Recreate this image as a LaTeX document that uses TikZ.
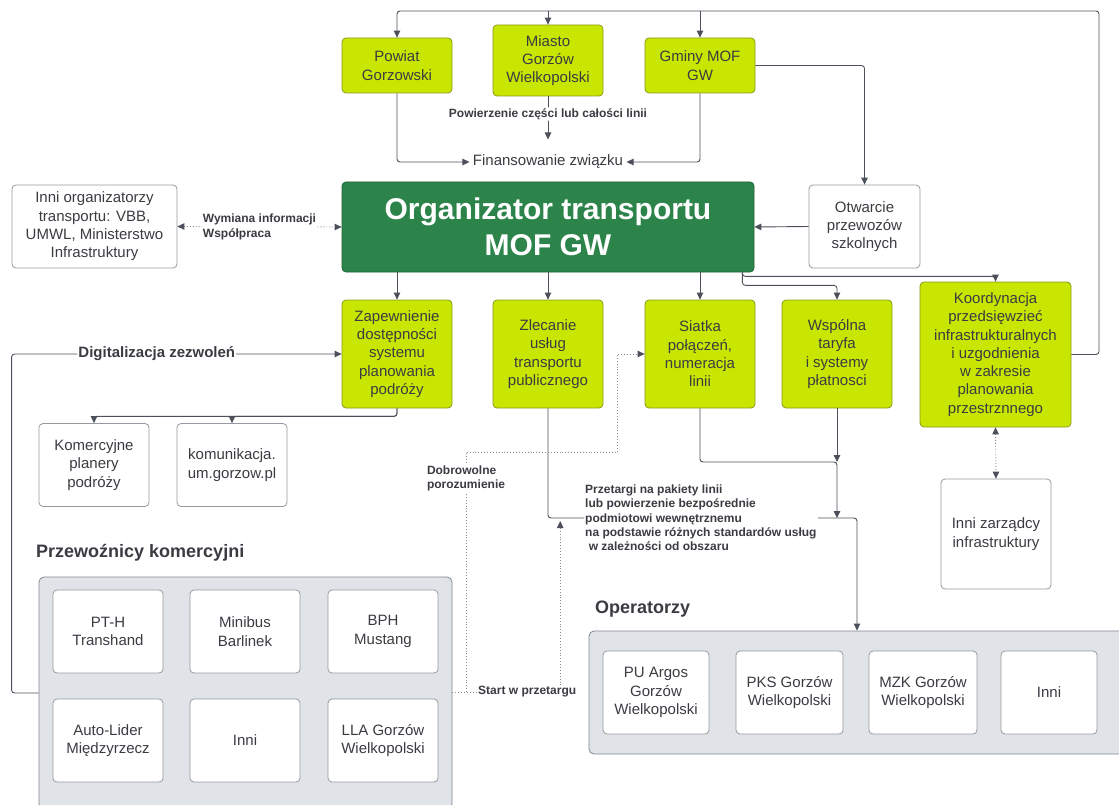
\documentclass[tikz,border=0pt]{standalone}
\usepackage{fontspec}
\setmainfont{Liberation Sans}
\usetikzlibrary{arrows.meta}

\definecolor{limefill}{RGB}{200,230,0}
\definecolor{limedraw}{RGB}{135,155,30}
\definecolor{orgfill}{RGB}{44,132,74}
\definecolor{orgdraw}{RGB}{30,100,55}
\definecolor{boxdraw}{RGB}{150,154,160}
\definecolor{groupfill}{RGB}{224,227,232}
\definecolor{groupdraw}{RGB}{130,135,145}
\definecolor{linecol}{RGB}{75,80,90}
\definecolor{dotcol}{RGB}{140,142,148}
\definecolor{textcol}{RGB}{58,60,66}

\begin{document}
\begin{tikzpicture}[
    x=1pt, y=-1pt,
    box/.style={rectangle, rounded corners=4pt, draw, align=center, inner sep=2pt, text=textcol,
        font=\fontsize{15}{18.3}\selectfont, line width=0.8pt},
    greenbox/.style={box, fill=limefill, draw=limedraw},
    whitebox/.style={box, fill=white, draw=boxdraw},
    orgbox/.style={box, fill=orgfill, draw=orgdraw, text=white, font=\fontsize{30}{36}\selectfont\bfseries},
    groupbox/.style={rectangle, rounded corners=5pt, draw=groupdraw, fill=groupfill, line width=0.8pt},
    member/.style={whitebox, minimum height=83pt},
    lbl/.style={font=\fontsize{12}{14.3}\selectfont\bfseries, text=textcol, align=left, inner sep=1pt},
    heading/.style={font=\fontsize{18}{21}\selectfont\bfseries, text=textcol, anchor=west, inner sep=0pt},
    conn/.style={draw=linecol, line width=0.9pt, rounded corners=3pt},
    arrow/.style={conn, -{Triangle[length=7pt,width=6.5pt]}},
    dotline/.style={draw=dotcol, dotted, line width=0.9pt},
    dotarrow/.style={dotline, -{Triangle[length=7pt,width=6.5pt,color=linecol]}},
    dotboth/.style={dotline, {Triangle[length=7pt,width=6.5pt,color=linecol]}-{Triangle[length=7pt,width=6.5pt,color=linecol]}}
]
\useasboundingbox (0,0) rectangle (1119,805);
\clip (0,0) rectangle (1119,805);
\fill[white] (0,0) rectangle (1119,805);

% Funding bodies
\node[greenbox, minimum width=110pt, minimum height=55pt] (powiat) at (397,65.5) {Powiat\\Gorzowski};
\node[greenbox, minimum width=110pt, minimum height=71pt] (miasto) at (548,60.5) {Miasto\\Gorzów\\Wielkopolski};
\node[greenbox, minimum width=110pt, minimum height=55pt] (gminy) at (700,65.5) {Gminy MOF\\GW};
\node[text=textcol, font=\fontsize{15}{18}\selectfont] (fin) at (548,162) {Finansowanie związku};

% Organizer
\node[orgbox, minimum width=412pt, minimum height=90pt] (org) at (548,227) {Organizator transportu\\MOF GW};
\node[whitebox, minimum width=165pt, minimum height=83pt] (inniorg) at (94.5,226.5) {Inni organizatorzy\\transportu: VBB,\\UMWL, Ministerstwo\\Infrastruktury};
\node[whitebox, minimum width=111pt, minimum height=83pt] (otw) at (864.5,226.5) {Otwarcie\\przewozów\\szkolnych};

% Tasks
\node[greenbox, minimum width=110pt, minimum height=108pt] (zap) at (397,354) {Zapewnienie\\dostępności\\systemu\\planowania\\podróży};
\node[greenbox, minimum width=110pt, minimum height=108pt] (zlec) at (548,354) {Zlecanie\\usług\\transportu\\publicznego};
\node[greenbox, minimum width=110pt, minimum height=108pt] (siat) at (700,354) {Siatka\\połączeń,\\numeracja\\linii};
\node[greenbox, minimum width=110pt, minimum height=108pt] (wsp) at (837,354) {Wspólna\\taryfa\\i systemy\\płatnosci};
\node[greenbox, minimum width=151pt, minimum height=145pt] (koord) at (995.5,354.5) {Koordynacja\\przedsięwzieć\\infrastrukturalnych\\i uzgodnienia\\w zakresie\\planowania\\przestrznnego};

\node[whitebox, minimum width=110pt, minimum height=83pt] (kom) at (94,465) {Komercyjne\\planery\\podróży};
\node[whitebox, minimum width=110pt, minimum height=83pt] (komu) at (232,465) {komunikacja.\\um.gorzow.pl};
\node[whitebox, minimum width=110pt, minimum height=110pt] (izarz) at (996,534) {Inni zarządcy\\infrastruktury};

% Commercial carriers
\node[heading] (przewh) at (36,553) {Przewoźnicy komercyjni};
\node[groupbox, minimum width=413pt, minimum height=232pt] (przew) at (245.5,693) {};
\node[member, minimum width=110pt] (pth) at (108,631.5) {PT-H\\Transhand};
\node[member, minimum width=110pt] (minibus) at (245,631.5) {Minibus\\Barlinek};
\node[member, minimum width=110pt] (bph) at (383,631.5) {BPH\\Mustang};
\node[member, minimum width=110pt] (autolider) at (108,740.5) {Auto-Lider\\Międzyrzecz};
\node[member, minimum width=110pt] (inniprz) at (245,740.5) {Inni};
\node[member, minimum width=110pt] (lla) at (383,740.5) {LLA Gorzów\\Wielkopolski};

% Operators
\node[heading] (operh) at (595,609) {Operatorzy};
\node[groupbox, minimum width=536pt, minimum height=123pt] (oper) at (857,692.5) {};
\node[member, minimum width=106pt] (argos) at (656,692.5) {PU Argos\\Gorzów\\Wielkopolski};
\node[member, minimum width=107pt] (pks) at (789.5,692.5) {PKS Gorzów\\Wielkopolski};
\node[member, minimum width=108pt] (mzk) at (923,692.5) {MZK Gorzów\\Wielkopolski};
\node[member, minimum width=96pt] (inniop) at (1049,692.5) {Inni};

% Labels
\node[lbl, anchor=west] (przlbl) at (584,518) {Przetargi na pakiety linii\\lub powierzenie bezpośrednie\\podmiotowi wewnętrznemu\\na podstawie różnych standardów usług\\\hspace{0.3em}w zależności od obszaru};
\node[lbl, anchor=west] (startlbl) at (477,692) {Start w przetargu};

% Connections
\coordinate (loop) at (1099,11);
\draw[arrow] (koord.east) -| (loop) -| (powiat.north);
\draw[arrow] (miasto.north |- loop) -- (miasto.north);
\draw[arrow] (gminy.north |- loop) -- (gminy.north);

\draw[arrow] (powiat.south) |- (fin.west);
\draw[arrow] (gminy.south) |- (fin.east);
\draw[arrow] (miasto.south) -- node[lbl, fill=white, pos=0.41] {Powierzenie części lub całości linii} ([yshift=12pt]fin.north);

\draw[arrow] (gminy.east) -| (otw.north);
\draw[arrow] (otw.west) -- (org.east);
\draw[dotboth] (inniorg.east) -- node[lbl, fill=white] {Wymiana informacji\\Współpraca} (org.west);

\draw[arrow] (org.south -| zap.north) -- (zap.north);
\draw[arrow] (org.south) -- (zlec.north);
\draw[arrow] (org.south -| siat.north) -- (siat.north);
\draw[arrow] ([xshift=-12pt]org.south east) -- ++(0,13) -| (wsp.north);
\draw[arrow] ([xshift=-12pt]org.south east) -- ++(0,4) -| (koord.north);

\draw[arrow] (zap.south) -- ++(0,8) -| (kom.north);
\draw[arrow] (zap.south) -- ++(0,8) -| (komu.north);
\draw[arrow] (przew.west) -- ++(-27,0) |- node[lbl, fill=white, pos=0.72, font=\fontsize{15}{18}\selectfont\bfseries] {Digitalizacja zezwoleń} (zap.west);

\draw[conn] (zlec.south) |- (przlbl.west);
\draw[arrow] (przlbl.east) -| (oper.north);
\coordinate (merge) at (837,462);
\draw[arrow] (wsp.south) -- (merge);
\draw[arrow] (siat.south) |- (merge) -- (merge |- przlbl.east);

\draw[dotline] (przew.east |- startlbl) -- (startlbl.west);
\coordinate (dobA) at (466,452);
\coordinate (dobB) at (617,452);
\draw[dotarrow] (dobA |- startlbl) -- node[lbl, fill=white, pos=0.89] {Dobrowolne\\porozumienie} (dobA) -- (dobB) |- (siat.west);
\draw[dotarrow, shorten >=3pt] ([xshift=33pt]startlbl.north) -- ([xshift=33pt]startlbl.north |- przlbl.west);

\draw[dotboth] (koord.south) -- (izarz.north);

\end{tikzpicture}
\end{document}
